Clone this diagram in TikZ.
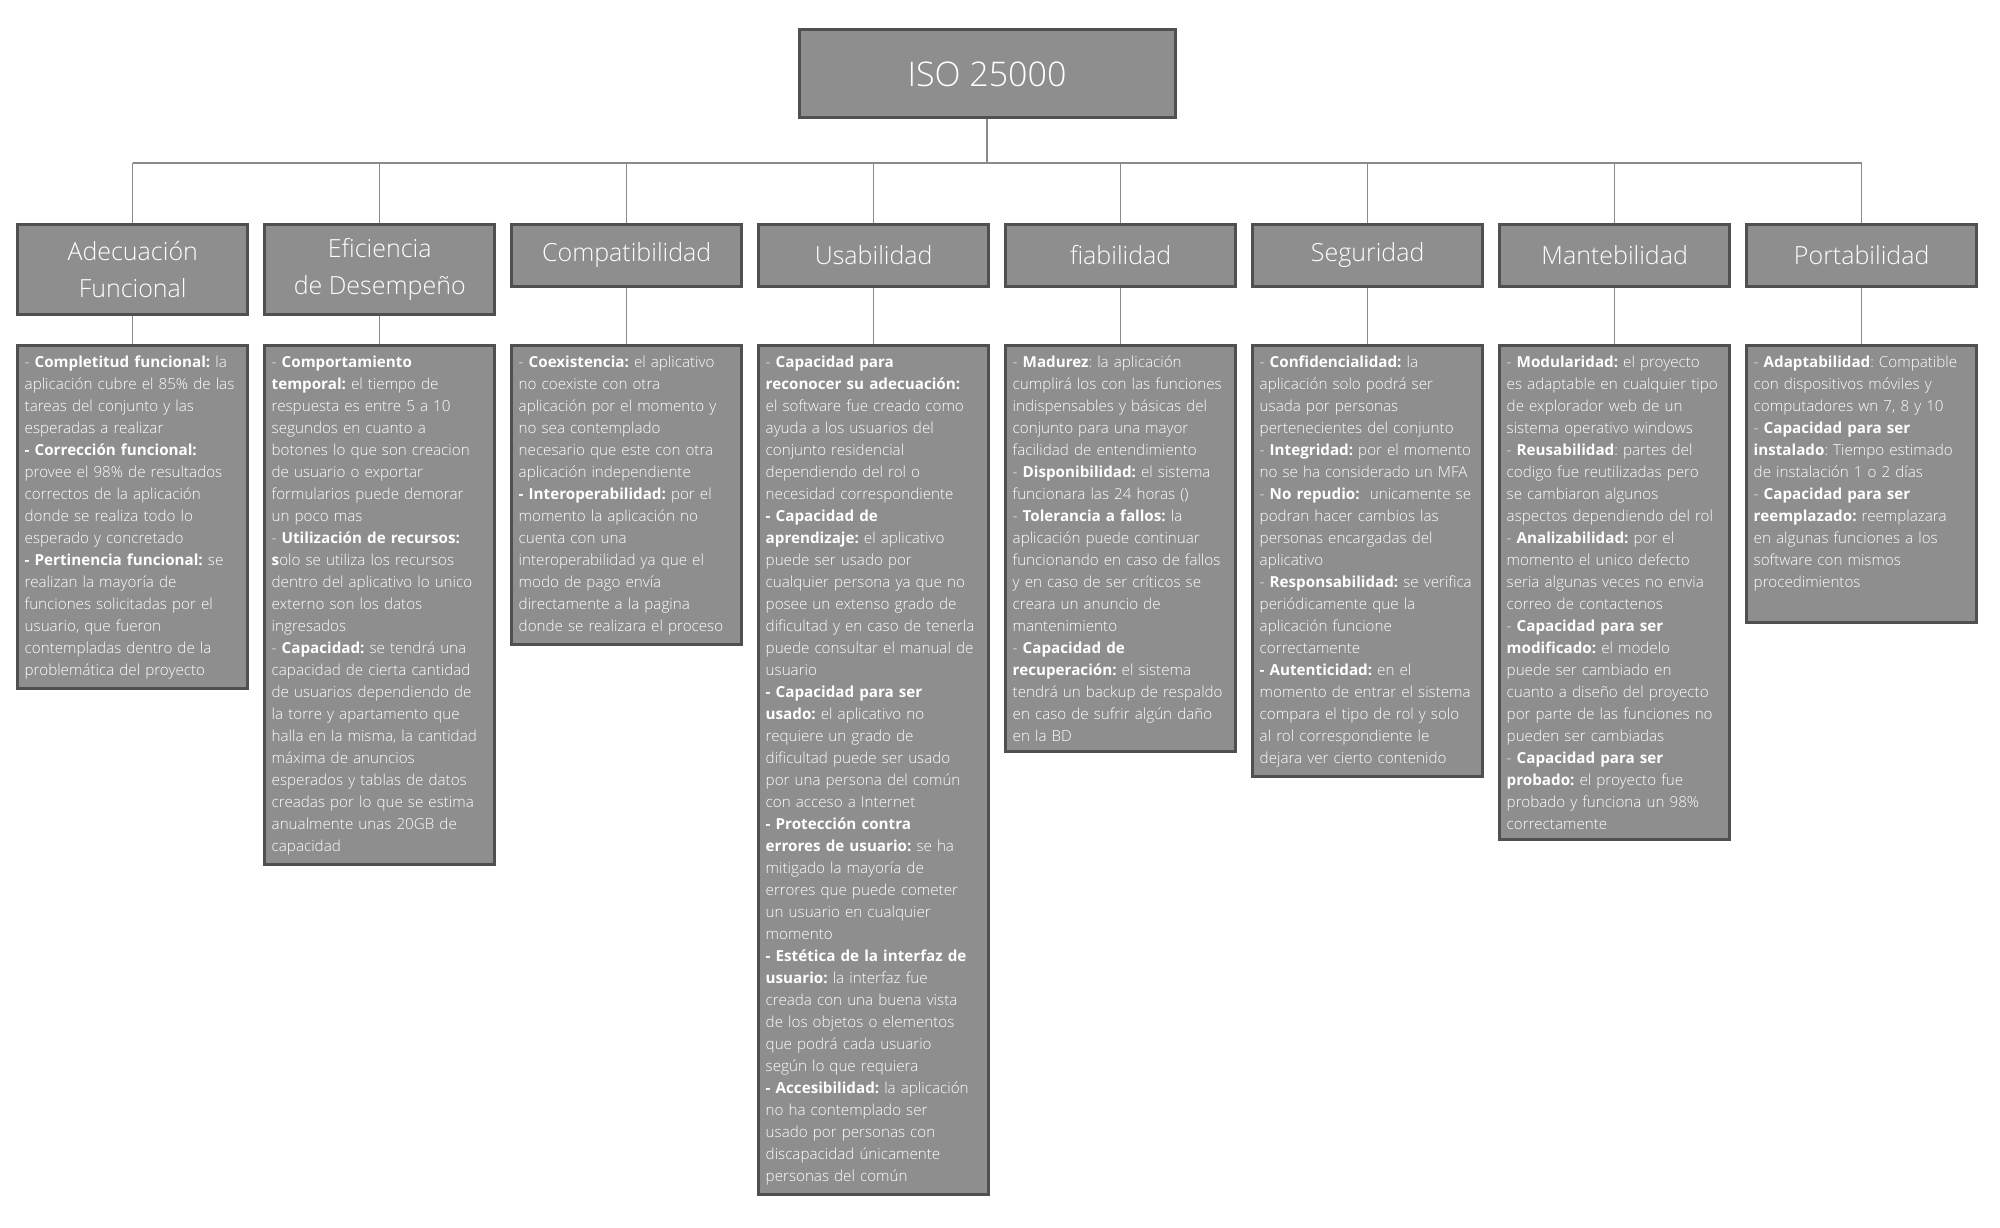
\documentclass[tikz,border=0pt]{standalone}
\usepackage{fontspec}
\setmainfont{Open Sans}[UprightFont={* Light},BoldFont={* Bold}]
\usetikzlibrary{positioning}
\frenchspacing
\definecolor{boxGray}{HTML}{8E8E8E}
\definecolor{edgeGray}{HTML}{505050}
\definecolor{lineGray}{HTML}{8A8A8A}
\tikzset{
  root/.style={
    draw=edgeGray,
    line width=3pt,
    fill=boxGray,
    text=white,
    minimum width=376pt,
    minimum height=88pt,
    font=\fontsize{34}{40}\selectfont
  }
}
\tikzset{
  category/.style={
    draw=edgeGray,
    line width=3pt,
    fill=boxGray,
    text=white,
    anchor=north,
    align=center,
    minimum width=230pt,
    inner sep=4pt,
    font=\fontsize{25}{37}\selectfont
  }
}
\tikzset{
  detail/.style={
    draw=edgeGray,
    line width=3pt,
    fill=boxGray,
    text=white,
    anchor=north,
    align=left,
    text width=216pt,
    inner xsep=7pt,
    inner ysep=10pt,
    font=\fontsize{15.2}{22}\selectfont
  }
}
\tikzset{
  link/.style={draw=lineGray, line width=1.2pt}
}

\begin{document}
\begin{tikzpicture}[x=1pt, y=-1pt]
  \useasboundingbox (0,0) rectangle (2000,1228);
  \coordinate (bus) at (0,163);
  \coordinate (detailTop) at (0,344);
  \node[root] (iso) at (987,74) {ISO 25000};
  \foreach \name/\title/\height [count=\i] in {
      adecuacion/{Adecuación\\Funcional}/90,
      eficiencia/{Eficiencia\\de Desempeño}/90,
      compat/Compatibilidad/62,
      usab/Usabilidad/62,
      fiab/fiabilidad/62,
      seguridad/Seguridad/62,
      manten/Mantebilidad/62,
      portab/Portabilidad/62}{
    \node[category, minimum height=\height pt] (\name)
      at ({132.7+247*(\i-1)},223) {\title};
  }

  \node[detail] (adecuacion-d) at (adecuacion.south |- detailTop) {%
    - \textbf{Completitud funcional:} la\\
    aplicación cubre el 85\% de las\\
    tareas del conjunto y las\\
    esperadas a realizar\\
    \textbf{- Corrección funcional:}\\
    provee el 98\% de resultados\\
    correctos de la aplicación\\
    donde se realiza todo lo\\
    esperado y concretado\\
    \textbf{- Pertinencia funcional:} se\\
    realizan la mayoría de\\
    funciones solicitadas por el\\
    usuario, que fueron\\
    contempladas dentro de la\\
    problemática del proyecto};

  \node[detail] (eficiencia-d) at (eficiencia.south |- detailTop) {%
    - \textbf{Comportamiento}\\
    \textbf{temporal:} el tiempo de\\
    respuesta es entre 5 a 10\\
    segundos en cuanto a\\
    botones lo que son creacion\\
    de usuario o exportar\\
    formularios puede demorar\\
    un poco mas\\
    - \textbf{Utilización de recursos:}\\
    \textbf{s}olo se utiliza los recursos\\
    dentro del aplicativo lo unico\\
    externo son los datos\\
    ingresados\\
    - \textbf{Capacidad:} se tendrá una\\
    capacidad de cierta cantidad\\
    de usuarios dependiendo de\\
    la torre y apartamento que\\
    halla en la misma, la cantidad\\
    máxima de anuncios\\
    esperados y tablas de datos\\
    creadas por lo que se estima\\
    anualmente unas 20GB de\\
    capacidad};

  \node[detail] (compat-d) at (compat.south |- detailTop) {%
    - \textbf{Coexistencia:} el aplicativo\\
    no coexiste con otra\\
    aplicación por el momento y\\
    no sea contemplado\\
    necesario que este con otra\\
    aplicación independiente\\
    \textbf{- Interoperabilidad:} por el\\
    momento la aplicación no\\
    cuenta con una\\
    interoperabilidad ya que el\\
    modo de pago envía\\
    directamente a la pagina\\
    donde se realizara el proceso};

  \node[detail] (usab-d) at (usab.south |- detailTop) {%
    - \textbf{Capacidad para}\\
    \textbf{reconocer su adecuación:}\\
    el software fue creado como\\
    ayuda a los usuarios del\\
    conjunto residencial\\
    dependiendo del rol o\\
    necesidad correspondiente\\
    \textbf{- Capacidad de}\\
    \textbf{aprendizaje:} el aplicativo\\
    puede ser usado por\\
    cualquier persona ya que no\\
    posee un extenso grado de\\
    dificultad y en caso de tenerla\\
    puede consultar el manual de\\
    usuario\\
    \textbf{- Capacidad para ser}\\
    \textbf{usado:} el aplicativo no\\
    requiere un grado de\\
    dificultad puede ser usado\\
    por una persona del común\\
    con acceso a Internet\\
    \textbf{- Protección contra}\\
    \textbf{errores de usuario:} se ha\\
    mitigado la mayoría de\\
    errores que puede cometer\\
    un usuario en cualquier\\
    momento\\
    \textbf{- Estética de la interfaz de}\\
    \textbf{usuario:} la interfaz fue\\
    creada con una buena vista\\
    de los objetos o elementos\\
    que podrá cada usuario\\
    según lo que requiera\\
    \textbf{- Accesibilidad:} la aplicación\\
    no ha contemplado ser\\
    usado por personas con\\
    discapacidad únicamente\\
    personas del común};

  \node[detail] (fiab-d) at (fiab.south |- detailTop) {%
    - \textbf{Madurez}: la aplicación\\
    cumplirá los con las funciones\\
    indispensables y básicas del\\
    conjunto para una mayor\\
    facilidad de entendimiento\\
    - \textbf{Disponibilidad:} el sistema\\
    funcionara las 24 horas ()\\
    - \textbf{Tolerancia a fallos:} la\\
    aplicación puede continuar\\
    funcionando en caso de fallos\\
    y en caso de ser críticos se\\
    creara un anuncio de\\
    mantenimiento\\
    - \textbf{Capacidad de}\\
    \textbf{recuperación:} el sistema\\
    tendrá un backup de respaldo\\
    en caso de sufrir algún daño\\
    en la BD};

  \node[detail] (seguridad-d) at (seguridad.south |- detailTop) {%
    - \textbf{Confidencialidad:} la\\
    aplicación solo podrá ser\\
    usada por personas\\
    pertenecientes del conjunto\\
    - \textbf{Integridad:} por el momento\\
    no se ha considerado un MFA\\
    - \textbf{No repudio:}\ \ unicamente se\\
    podran hacer cambios las\\
    personas encargadas del\\
    aplicativo\\
    - \textbf{Responsabilidad:} se verifica\\
    periódicamente que la\\
    aplicación funcione\\
    correctamente\\
    \textbf{- Autenticidad:} en el\\
    momento de entrar el sistema\\
    compara el tipo de rol y solo\\
    al rol correspondiente le\\
    dejara ver cierto contenido};

  \node[detail] (manten-d) at (manten.south |- detailTop) {%
    - \textbf{Modularidad:} el proyecto\\
    es adaptable en cualquier tipo\\
    de explorador web de un\\
    sistema operativo windows\\
    - \textbf{Reusabilidad}: partes del\\
    codigo fue reutilizadas pero\\
    se cambiaron algunos\\
    aspectos dependiendo del rol\\
    - \textbf{Analizabilidad:} por el\\
    momento el unico defecto\\
    seria algunas veces no envia\\
    correo de contactenos\\
    - \textbf{Capacidad para ser}\\
    \textbf{modificado:} el modelo\\
    puede ser cambiado en\\
    cuanto a diseño del proyecto\\
    por parte de las funciones no\\
    pueden ser cambiadas\\
    - \textbf{Capacidad para ser}\\
    \textbf{probado:} el proyecto fue\\
    probado y funciona un 98\%\\
    correctamente};

  % empty room under the last line, as in the reference
  \node[detail] (portab-d) at (portab.south |- detailTop) {%
    - \textbf{Adaptabilidad}: Compatible\\
    con dispositivos móviles y\\
    computadores wn 7, 8 y 10\\
    - \textbf{Capacidad para ser}\\
    \textbf{instalado}: Tiempo estimado\\
    de instalación 1 o 2 días\\
    - \textbf{Capacidad para ser}\\
    \textbf{reemplazado:} reemplazara\\
    en algunas funciones a los\\
    software con mismos\\
    procedimientos\\[3pt]\mbox{}};

  % tree connectors
  \draw[link] (iso.south) -- (iso.south |- bus);
  \draw[link] (adecuacion.north |- bus) -- (portab.north |- bus);
  \foreach \name in {adecuacion, eficiencia, compat, usab, fiab, seguridad, manten, portab}{
    \draw[link] (\name.north |- bus) -- (\name.north);
    \draw[link] (\name.south) -- (\name-d.north);
  }
\end{tikzpicture}
\end{document}
